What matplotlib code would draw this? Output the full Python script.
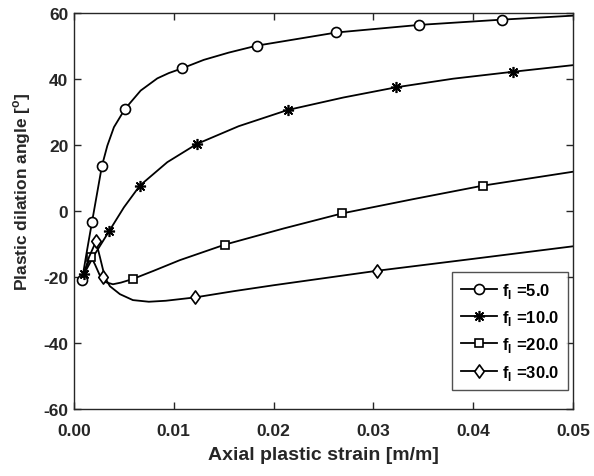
import matplotlib
matplotlib.use("Agg")
import matplotlib.pyplot as plt
from matplotlib.lines import Line2D
from matplotlib.path import Path

plt.rcParams['font.family'] = ['Liberation Sans', 'DejaVu Sans']
plt.rcParams['font.weight'] = 'bold'
plt.rcParams['axes.labelweight'] = 'bold'
plt.rcParams['mathtext.fontset'] = 'custom'
plt.rcParams['mathtext.rm'] = 'Liberation Sans:bold'
plt.rcParams['axes.unicode_minus'] = False

# ---- data ----
labels = ["5.0", "10.0", "20.0", "30.0"]

x5 = [0.0008, 0.0013, 0.0018, 0.0028, 0.00334, 0.0040, 0.0051, 0.00668, 0.00835, 0.0095, 0.0108, 0.0130, 0.0155, 0.0183, 0.0263, 0.0346, 0.0429, 0.05]
y5 = [-21.0, -12.0, -3.4, 13.7, 19.8, 25.4, 30.9, 36.5, 40.2, 41.8, 43.2, 45.8, 48.0, 50.1, 54.1, 56.4, 58.0, 59.2]
mx5 = [0.0008, 0.0018, 0.0028, 0.0051, 0.0108, 0.0183, 0.0263, 0.0346, 0.0429]
my5 = [-21.0, -3.4, 13.7, 30.9, 43.2, 50.1, 54.1, 56.4, 58.0]

x10 = [0.0010, 0.0020, 0.0035, 0.0050, 0.0066, 0.00935, 0.0123, 0.0165, 0.0214, 0.0270, 0.0323, 0.0380, 0.0440, 0.05]
y10 = [-19.1, -13.5, -6.2, 1.1, 7.7, 14.8, 20.3, 25.7, 30.6, 34.4, 37.5, 40.1, 42.2, 44.2]
mx10 = [0.0010, 0.0035, 0.0066, 0.0123, 0.0214, 0.0323, 0.0440]
my10 = [-19.1, -6.2, 7.7, 20.3, 30.6, 37.5, 42.2]

x20 = [0.0009, 0.0013, 0.0017, 0.0021, 0.0026, 0.0032, 0.0039, 0.0047, 0.0059, 0.0080, 0.0106, 0.0151, 0.0210, 0.0269, 0.0340, 0.0410, 0.05]
y20 = [-20.0, -16.5, -13.8, -16.2, -19.6, -21.6, -22.2, -21.7, -20.6, -18.1, -14.9, -10.2, -5.3, -0.7, 3.6, 7.7, 11.9]
mx20 = [0.0017, 0.0059, 0.0151, 0.0269, 0.0410]
my20 = [-13.8, -20.6, -10.2, -0.7, 7.7]

x30 = [0.0009, 0.0015, 0.0022, 0.0026, 0.0031, 0.0036, 0.0046, 0.0059, 0.0075, 0.0092, 0.0121, 0.0160, 0.0200, 0.0304, 0.0400, 0.05]
y30 = [-20.0, -14.0, -9.2, -14.0, -20.2, -22.8, -25.2, -27.0, -27.5, -27.2, -26.2, -24.3, -22.5, -18.1, -14.5, -10.7]
mx30 = [0.0022, 0.0029, 0.0121, 0.0304]
my30 = [-9.2, -19.9, -26.2, -18.1]

xticks = [0.00, 0.01, 0.02, 0.03, 0.04, 0.05]
xticklabels = ["0.00", "0.01", "0.02", "0.03", "0.04", "0.05"]
yticks = [-60, -40, -20, 0, 20, 40, 60]

# ---- drawing ----
TXT = '#262626'
diamond = Path([(0, 1), (0.72, 0), (0, -1), (-0.72, 0), (0, 1)],
               [Path.MOVETO, Path.LINETO, Path.LINETO, Path.LINETO, Path.CLOSEPOLY])
markers = ['o', (8, 2, 0), 's', diamond]
msizes = [7.2, 8, 6.3, 9.5]
curves = [(x5, y5, mx5, my5), (x10, y10, mx10, my10), (x20, y20, mx20, my20), (x30, y30, mx30, my30)]

fig = plt.figure(figsize=(5.94, 4.77), dpi=100)
ax = fig.add_axes([0.1246, 0.1405, 0.8400, 0.8301])

handles = []
for (cx, cy, mx, my), mk, ms, lab in zip(curves, markers, msizes, labels):
    ax.plot(cx, cy, color='black', lw=1.3)
    ax.plot(mx, my, ls='none', marker=mk, ms=ms, mfc='white', mec='black', mew=1.2)
    handles.append(Line2D([], [], color='black', lw=1.3, marker=mk, ms=ms,
                          mfc='white', mec='black', mew=1.2,
                          label=r'f$_\mathregular{l}$ =' + lab))

ax.set_xlim(0, 0.05)
ax.set_ylim(-60, 60)
ax.set_xticks(xticks)
ax.set_xticklabels(xticklabels)
ax.set_yticks(yticks)
ax.tick_params(direction='in', top=True, right=True, length=5, width=1,
               labelsize=12.5, colors=TXT, labelcolor=TXT)
ax.tick_params(axis='x', pad=10)
ax.tick_params(axis='y', pad=4)
for s in ax.spines.values():
    s.set_linewidth(1.0)
    s.set_color(TXT)

ax.set_xlabel('Axial plastic strain [m/m]', fontsize=14, fontweight='bold', labelpad=6, color=TXT)
ax.set_ylabel('Plastic dilation angle [$^\\mathregular{o}$]', fontsize=12.5, fontweight='bold', color=TXT)
ax.yaxis.set_label_coords(-0.082, 0.55)

leg = ax.legend(handles=handles, loc='lower right', fontsize=12, frameon=True,
                fancybox=False, edgecolor=TXT, handlelength=2.2,
                handletextpad=0.3, borderpad=0.5, labelspacing=0.5,
                borderaxespad=0, bbox_to_anchor=(0.99, 0.048))
leg.get_frame().set_linewidth(1.0)
for t in leg.get_texts():
    t.set_color('black')

fig.savefig('out.png', dpi=100)
